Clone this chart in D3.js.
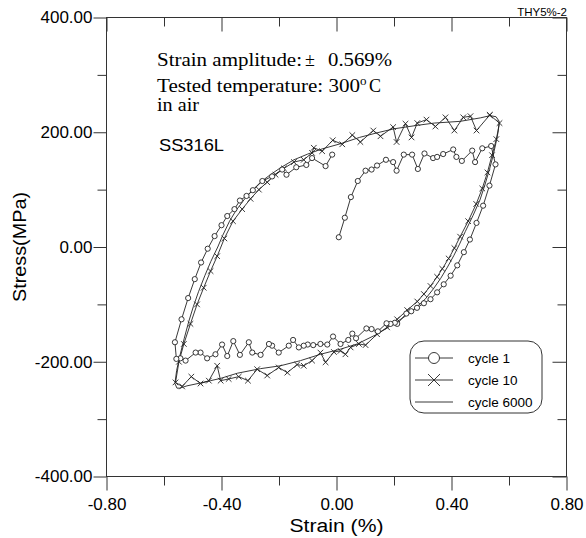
<!DOCTYPE html>
<html>
<head>
<meta charset="utf-8">
<script src="https://cdn.jsdelivr.net/npm/d3@7"></script>
<style>
  html, body { margin: 0; padding: 0; background: #fff; }
  svg { display: block; }
  .axis text { font-family: 'Liberation Sans', Arial, sans-serif; font-size: 17px; fill: #000; }
  .axis line { stroke: #333; stroke-width: 1; }
  .serif { font-family: 'Liberation Serif', 'Times New Roman', serif; font-size: 18px; fill: #000; }
  .sans { font-family: 'Liberation Sans', Arial, sans-serif; fill: #000; }
</style>
</head>
<body>
<div id="chart"></div>
<script>
// ---- data (strain %, stress MPa) ----
const cycle1 = [
  [0.008, 17], [0.029, 51], [0.050, 87], [0.074, 115], [0.101, 133], [0.122, 135],
  [0.141, 142], [0.172, 152], [0.197, 148], [0.209, 133], [0.234, 161], [0.263, 161],
  [0.283, 136], [0.306, 163], [0.336, 155], [0.350, 157], [0.371, 162], [0.406, 170],
  [0.417, 157], [0.436, 150], [0.472, 168], [0.482, 148], [0.507, 172], [0.538, 176],
  [0.553, 144], [0.532, 107], [0.510, 72], [0.487, 42], [0.464, 13], [0.443, -9],
  [0.420, -32], [0.397, -50], [0.373, -65], [0.350, -79], [0.327, -91], [0.304, -98],
  [0.280, -106], [0.260, -112], [0.243, -116], [0.211, -134], [0.203, -132], [0.188, -134],
  [0.174, -133], [0.144, -147], [0.122, -143], [0.104, -142], [0.068, -159], [0.055, -151],
  [0.041, -162], [0.014, -169], [-0.012, -156], [-0.032, -170], [-0.056, -169], [-0.081, -171],
  [-0.100, -170], [-0.114, -172], [-0.131, -175], [-0.151, -162], [-0.166, -172], [-0.201, -184],
  [-0.224, -172], [-0.235, -169], [-0.264, -188], [-0.293, -184], [-0.305, -166], [-0.336, -188],
  [-0.359, -164], [-0.380, -190], [-0.398, -170], [-0.421, -187], [-0.450, -194], [-0.473, -184],
  [-0.490, -184], [-0.525, -198], [-0.543, -194], [-0.557, -195], [-0.562, -166], [-0.539, -126],
  [-0.516, -89], [-0.493, -56], [-0.471, -27], [-0.448, -3], [-0.424, 19], [-0.400, 38],
  [-0.380, 54], [-0.355, 66], [-0.336, 81], [-0.313, 89], [-0.291, 99], [-0.258, 115],
  [-0.224, 123], [-0.189, 135], [-0.174, 126], [-0.140, 139], [-0.105, 143], [-0.085, 155],
  [-0.038, 141], [-0.015, 161]
];

const cycle10 = [
  [0.533, 230], [0.567, 216], [0.556, 188], [0.541, 160], [0.525, 130], [0.507, 102],
  [0.486, 75], [0.458, 45], [0.430, 18], [0.410, -2], [0.390, -20], [0.368, -38],
  [0.350, -52], [0.327, -68], [0.304, -82], [0.281, -95], [0.246, -110], [0.211, -126],
  [0.176, -140], [0.141, -152], [0.101, -171], [0.078, -169], [0.049, -175], [0.031, -187],
  [0.014, -181], [-0.009, -183], [-0.038, -201], [-0.056, -184], [-0.085, -198], [-0.114, -207],
  [-0.137, -205], [-0.171, -219], [-0.201, -210], [-0.241, -224], [-0.276, -213], [-0.308, -233],
  [-0.340, -226], [-0.375, -230], [-0.403, -233], [-0.415, -207], [-0.444, -233], [-0.473, -238],
  [-0.505, -226], [-0.537, -243], [-0.560, -236], [-0.548, -200], [-0.531, -169], [-0.508, -134],
  [-0.485, -100], [-0.462, -71], [-0.438, -42], [-0.415, -16], [-0.390, 15], [-0.360, 45],
  [-0.328, 66], [-0.299, 84], [-0.270, 100], [-0.241, 113], [-0.212, 126], [-0.183, 137],
  [-0.148, 148], [-0.114, 152], [-0.085, 164], [-0.079, 173], [-0.050, 167], [-0.013, 186],
  [0.020, 179], [0.055, 195], [0.083, 183], [0.128, 203], [0.153, 193], [0.197, 209],
  [0.209, 183], [0.240, 215], [0.261, 191], [0.281, 216], [0.313, 222], [0.344, 210],
  [0.379, 226], [0.410, 203], [0.441, 226], [0.466, 228], [0.487, 203], [0.533, 230]
];

const cycle6000 = [
  [-0.555, -246], [-0.562, -238], [-0.556, -215], [-0.545, -190], [-0.530, -160], [-0.514, -130],
  [-0.498, -104], [-0.480, -78], [-0.458, -50], [-0.437, -25], [-0.413, 0], [-0.396, 20],
  [-0.372, 45], [-0.349, 64], [-0.319, 84], [-0.290, 100], [-0.262, 114], [-0.230, 126],
  [-0.195, 138], [-0.148, 152], [-0.100, 162], [-0.050, 171], [0.014, 180], [0.080, 191],
  [0.141, 199], [0.200, 206], [0.280, 212], [0.340, 216], [0.430, 219], [0.500, 225],
  [0.535, 229], [0.555, 227], [0.566, 219], [0.562, 200], [0.554, 180], [0.545, 160],
  [0.532, 135], [0.516, 108], [0.499, 82], [0.475, 55], [0.448, 27], [0.428, 5],
  [0.408, -15], [0.386, -35], [0.362, -55], [0.337, -73], [0.310, -90], [0.280, -104],
  [0.250, -117], [0.199, -134], [0.141, -152], [0.072, -169], [0.014, -178], [-0.056, -187],
  [-0.125, -198], [-0.195, -207], [-0.264, -212], [-0.345, -220], [-0.403, -229], [-0.438, -233],
  [-0.473, -237], [-0.520, -242], [-0.545, -246], [-0.555, -246]
];

const xMajor = [-0.8, -0.4, 0, 0.4, 0.8];
const xMinor = [-0.6, -0.2, 0.2, 0.6];
const yMajor = [-400, -200, 0, 200, 400];
const yMinor = [-300, -100, 100, 300];
const legendLabels = ['cycle 1', 'cycle 10', 'cycle 6000'];

// ---- setup ----
const width = 586, height = 538;
const plotLeft = 106.5, plotRight = 566.5, plotTop = 17.5, plotBottom = 476.5;
const majorLen = 14, minorLen = 9;
const ink = '#222';

const svg = d3.select('#chart').append('svg')
  .attr('width', width)
  .attr('height', height);

const x = d3.scaleLinear().domain([-0.8, 0.8]).range([plotLeft, plotRight]);
const y = d3.scaleLinear().domain([-400, 400]).range([plotBottom, plotTop]);
const fmt = d => d.toFixed(2);

// axes: labelled bottom/left outward, mirrored top/right inward
svg.append('g').attr('class', 'axis')
  .attr('transform', `translate(0,${plotBottom})`)
  .call(d3.axisBottom(x).tickValues(xMajor).tickSize(majorLen).tickPadding(7).tickFormat(fmt));
svg.append('g').attr('class', 'axis')
  .attr('transform', `translate(0,${plotBottom})`)
  .call(d3.axisBottom(x).tickValues(xMinor).tickSize(minorLen).tickFormat(''));
svg.append('g').attr('class', 'axis')
  .attr('transform', `translate(0,${plotTop})`)
  .call(d3.axisTop(x).tickValues(xMajor).tickSize(-majorLen).tickFormat(''));
svg.append('g').attr('class', 'axis')
  .attr('transform', `translate(0,${plotTop})`)
  .call(d3.axisTop(x).tickValues(xMinor).tickSize(-minorLen).tickFormat(''));

svg.append('g').attr('class', 'axis')
  .attr('transform', `translate(${plotLeft},0)`)
  .call(d3.axisLeft(y).tickValues(yMajor).tickSize(13).tickPadding(1).tickFormat(fmt));
svg.append('g').attr('class', 'axis')
  .attr('transform', `translate(${plotLeft},0)`)
  .call(d3.axisLeft(y).tickValues(yMinor).tickSize(minorLen).tickFormat(''));
svg.append('g').attr('class', 'axis')
  .attr('transform', `translate(${plotRight},0)`)
  .call(d3.axisRight(y).tickValues(yMajor).tickSize(-majorLen).tickFormat(''));
svg.append('g').attr('class', 'axis')
  .attr('transform', `translate(${plotRight},0)`)
  .call(d3.axisRight(y).tickValues(yMinor).tickSize(-minorLen).tickFormat(''));

svg.selectAll('.axis .domain').remove();

// frame
svg.append('rect')
  .attr('x', plotLeft).attr('y', plotTop)
  .attr('width', plotRight - plotLeft).attr('height', plotBottom - plotTop)
  .attr('fill', 'none').attr('stroke', '#333');

// axis titles
svg.append('text').attr('class', 'sans')
  .attr('x', (plotLeft + plotRight) / 2).attr('y', 532)
  .attr('text-anchor', 'middle').attr('font-size', 18)
  .attr('textLength', 94).attr('lengthAdjust', 'spacingAndGlyphs')
  .text('Strain (%)');
svg.append('text').attr('class', 'sans')
  .attr('transform', `translate(26,${(plotTop + plotBottom) / 2}) rotate(-90)`)
  .attr('text-anchor', 'middle').attr('font-size', 19)
  .attr('textLength', 110).attr('lengthAdjust', 'spacingAndGlyphs')
  .text('Stress(MPa)');

svg.append('text').attr('class', 'sans')
  .attr('x', 567).attr('y', 15.5)
  .attr('text-anchor', 'end').attr('font-size', 11.5)
  .text('THY5%-2');

// ---- curves ----
const line = d3.line().x(d => x(d[0])).y(d => y(d[1]));
const plot = svg.append('g');

[cycle6000, cycle10, cycle1].forEach(data => {
  plot.append('path')
    .datum(data)
    .attr('d', line)
    .attr('fill', 'none')
    .attr('stroke', ink)
    .attr('stroke-width', 0.9);
});

const crossPath = s => `M${-s},${-s}L${s},${s}M${-s},${s}L${s},${-s}`;

plot.append('g').selectAll('path')
  .data(cycle10)
  .join('path')
  .attr('transform', d => `translate(${x(d[0])},${y(d[1])})`)
  .attr('d', crossPath(2.8))
  .attr('stroke', ink)
  .attr('stroke-width', 0.9);

plot.append('g').selectAll('circle')
  .data(cycle1)
  .join('circle')
  .attr('cx', d => x(d[0]))
  .attr('cy', d => y(d[1]))
  .attr('r', 2.6)
  .attr('fill', '#fff')
  .attr('stroke', ink)
  .attr('stroke-width', 0.9);

// ---- annotations ----
const note = svg.append('g');
const l1 = note.append('text').attr('class', 'serif').attr('y', 66);
l1.append('tspan').attr('x', 157).attr('textLength', 145).attr('lengthAdjust', 'spacingAndGlyphs').text('Strain amplitude:');
l1.append('tspan').attr('x', 305).text('±');
l1.append('tspan').attr('x', 328).attr('textLength', 64).attr('lengthAdjust', 'spacingAndGlyphs').text('0.569%');

const l2 = note.append('text').attr('class', 'serif').attr('y', 92);
l2.append('tspan').attr('x', 157).attr('textLength', 203).attr('lengthAdjust', 'spacingAndGlyphs').text('Tested temperature: 300');
l2.append('tspan').attr('x', 360).attr('dy', -7).attr('font-size', 13).text('o');
l2.append('tspan').attr('x', 369).attr('dy', 7).text('C');

note.append('text').attr('class', 'serif')
  .attr('x', 157).attr('y', 111)
  .attr('textLength', 42).attr('lengthAdjust', 'spacingAndGlyphs')
  .text('in air');

note.append('text').attr('class', 'sans')
  .attr('x', 159).attr('y', 151).attr('font-size', 16.5)
  .attr('textLength', 65).attr('lengthAdjust', 'spacingAndGlyphs')
  .text('SS316L');

// ---- legend ----
const legend = svg.append('g');
legend.append('rect')
  .attr('x', 410).attr('y', 341).attr('width', 132).attr('height', 72)
  .attr('rx', 14).attr('ry', 14)
  .attr('fill', '#fff').attr('stroke', '#333');

const rowY = [358, 380, 402];
legendLabels.forEach((label, i) => {
  const g = legend.append('g').attr('transform', `translate(0,${rowY[i]})`);
  g.append('line')
    .attr('x1', 415).attr('x2', 453)
    .attr('stroke', ink).attr('stroke-width', 0.9);
  if (i === 0) {
    g.append('circle').attr('cx', 434).attr('r', 5.5)
      .attr('fill', '#fff').attr('stroke', ink).attr('stroke-width', 0.9);
  } else if (i === 1) {
    g.append('path').attr('transform', 'translate(434,0)')
      .attr('d', crossPath(6)).attr('stroke', ink).attr('stroke-width', 0.9);
  }
  g.append('text').attr('class', 'sans')
    .attr('x', 468).attr('dy', '0.35em').attr('font-size', 13.5)
    .text(label);
});
</script>
</body>
</html>
